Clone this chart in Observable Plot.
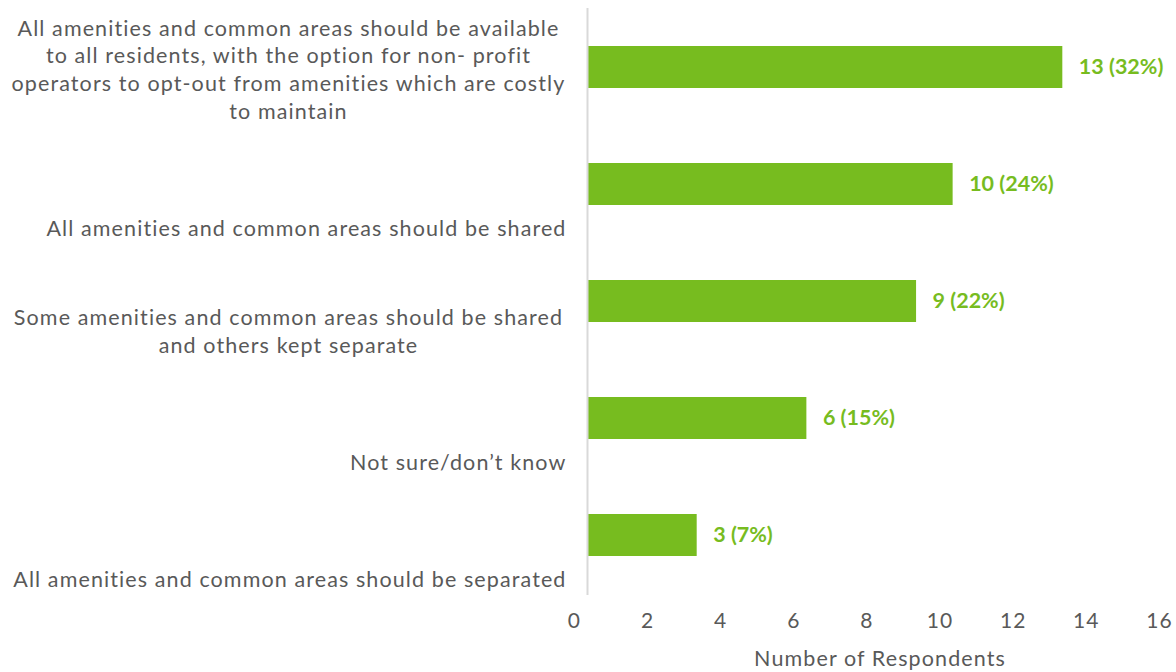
<!DOCTYPE html>
<html><head><meta charset="utf-8">
<script src="https://cdn.jsdelivr.net/npm/d3@7"></script>
<script src="https://cdn.jsdelivr.net/npm/@observablehq/plot@0.6"></script>
<style>html,body{margin:0;padding:0;background:#fff;} #chart svg text{letter-spacing:1.1px;} #chart svg g[font-weight="bold"] text{letter-spacing:0px;}</style>
</head><body><div id="chart"></div>
<script>
const labelLines = [
  ["All amenities and common areas should be available", "to all residents, with the option for non- profit", "operators to opt-out from amenities which are costly", "to maintain"],
  ["All amenities and common areas should be shared"],
  ["Some amenities and common areas should be shared", "and others kept separate"],
  ["Not sure/don\u2019t know"],
  ["All amenities and common areas should be separated"]
];
const categories = labelLines.map(l => l.join(" "));
const counts = [13, 10, 9, 6, 3];
const percents = [32, 24, 22, 15, 7];
const xTicks = [0, 2, 4, 6, 8, 10, 12, 14, 16];
const xTitle = "Number of Respondents";

const data = categories.map((c, i) => ({cat: c, count: counts[i], pct: percents[i]}));
const wrapped = new Map(categories.map((c, i) => [c, labelLines[i].join("\n")]));
const singleCats = categories.filter((c, i) => labelLines[i].length === 1);
const multiCats = categories.filter((c, i) => labelLines[i].length > 1);

const green = "#77BC1F";
const chart = Plot.plot({
  width: 1176, height: 672,
  marginTop: 8, marginBottom: 77, marginLeft: 587, marginRight: 4,
  style: {fontFamily: "Lato, 'Open Sans', sans-serif", color: "#595959", fontSize: "21.5px", background: "#fff"},
  x: {domain: [0, 16], label: null},
  y: {domain: categories, paddingInner: 0.64, paddingOuter: 0.32, label: null},
  marks: [
    Plot.barX(data, {x: "count", y: "cat", fill: green}),
    Plot.ruleX([0], {stroke: "#d9d9d9", strokeWidth: 2}),
    Plot.text(data, {x: "count", y: "cat", text: d => `${d.count} (${d.pct}%)`, textAnchor: "start", dx: 16, fill: green, fontWeight: "bold", fontSize: 21.5}),
    Plot.axisX(xTicks, {tickSize: 0, tickPadding: 18, dx: -13, fontSize: 21, label: null}),
    Plot.axisY(singleCats, {tickSize: 0, tickPadding: 21, textAnchor: "end", lineAnchor: "bottom", dy: 51, label: null}),
    Plot.axisY(multiCats, {tickSize: 0, tickPadding: 0, dx: -299, textAnchor: "middle", lineAnchor: "bottom", dy: 51, lineHeight: 1.28, tickFormat: c => wrapped.get(c), label: null}),
    Plot.text([xTitle], {frameAnchor: "bottom", lineAnchor: "middle", dy: 64, fontSize: 21.5, text: d => d})
  ]
});
document.getElementById("chart").appendChild(chart);
</script>
</body></html>
